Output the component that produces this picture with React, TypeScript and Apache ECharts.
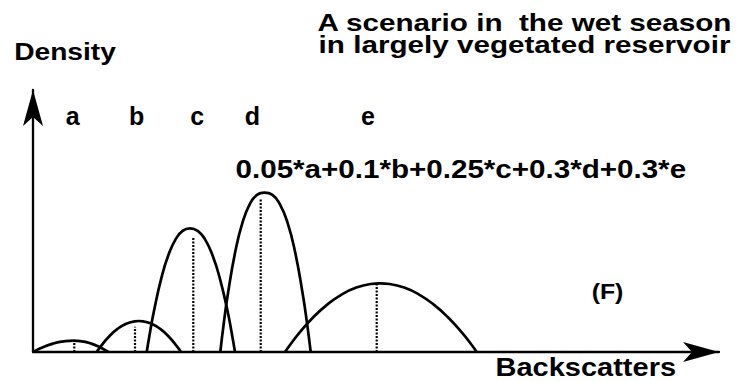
import React, { useEffect, useRef } from "react";
import * as echarts from "echarts";

// Component curves (x: backscatter units, y: density units)
const humpA = [[0, 0], [4.1, 2.1], [12.2, 5.8], [20.3, 8.5], [28.4, 10.3], [36.5, 11.2], [40.5, 11.3], [44, 11.2], [50.9, 10.3], [57.9, 8.5], [64.9, 5.8], [71.8, 2.1], [75.3, 0]];
const humpB = [[63.7, 0], [67.9, 5.9], [76.3, 15.8], [84.8, 23.3], [93.2, 28.2], [101.6, 30.7], [105.9, 31], [110.1, 30.7], [118.5, 28.2], [126.9, 23.3], [135.4, 15.8], [143.8, 5.9], [148, 0]];
const humpC = [[113.7, 0], [117.2, 20.8], [121.1, 41.6], [128.4, 74.1], [135.3, 96.7], [142.7, 112.9], [149.6, 121.2], [157, 123.7], [164.7, 121.2], [171.9, 112.9], [179.5, 96.7], [186.7, 74.1], [194.4, 41.6], [198.4, 20.8], [202, 0]];
const humpD = [[187.3, 0], [190.8, 29], [194.8, 57.5], [202.3, 100.5], [209.4, 129.2], [216.9, 148.1], [224, 157.1], [231.5, 159.3], [239.4, 157.1], [246.7, 148.1], [254.6, 129.2], [262, 100.5], [269.8, 57.5], [274, 29], [277.7, 0]];
const humpE = [[252, 0], [256.8, 6.7], [266.3, 19.1], [280.5, 35], [294.8, 47.9], [309, 57.7], [323.3, 64.4], [337.5, 68], [347, 68.7], [356.7, 68], [371.2, 64.4], [385.7, 57.7], [400.2, 47.9], [414.7, 35], [429.2, 19.1], [438.9, 6.7], [443.7, 0]];
const humps = [humpA, humpB, humpC, humpD, humpE];

// Dotted mode lines
const dropX = [41.3, 102, 160.3, 227.7, 343.7];
const dropTop = [10.3, 25.3, 114.3, 153.7, 67.7];

// Component labels
const componentNames = ["a", "b", "c", "d", "e"];
const componentLabelX = [39.7, 103.7, 164.3, 219.3, 335];
const componentLabelY = [235.7, 235.7, 235.7, 235.7, 235.7];

const titleLines = ["A scenario in  the wet season", "in largely vegetated reservoir"];
const yName = "Density";
const xName = "Backscatters";
const formula = "0.05*a+0.1*b+0.25*c+0.3*d+0.3*e";
const panel = "(F)";

const X_MAX = 686;
const Y_MAX = 262;
const FONT = "'Liberation Sans', Arial, Helvetica, sans-serif";

function txt(text: string, x: number, y: number, size: number, sx: number) {
  return {
    type: "text",
    x,
    y,
    scaleX: sx,
    silent: true,
    style: {
      text,
      fontSize: size,
      fontWeight: "bold",
      fontFamily: FONT,
      fill: "#000",
      align: "center",
      verticalAlign: "middle",
      textAlign: "center",
      textVerticalAlign: "middle",
    },
  };
}

export default function App() {
  const ref = useRef<HTMLDivElement>(null);
  useEffect(() => {
    if (!ref.current) return;
    const chart = echarts.init(ref.current, null, { renderer: "svg" });
    const axisCommon = {
      type: "value",
      axisTick: { show: false },
      axisLabel: { show: false },
      splitLine: { show: false },
      axisLine: {
        show: true,
        symbol: ["none", "arrow"],
        symbolSize: [15, 36],
        lineStyle: { color: "#000", width: 2.3 },
      },
    };
    const series: any[] = [];
    humps.forEach((h, i) => {
      series.push({
        type: "line",
        name: componentNames[i],
        data: h,
        smooth: true,
        showSymbol: false,
        symbol: "none",
        lineStyle: { color: "#000", width: 2.7 },
        z: 3,
      });
    });
    dropX.forEach((x, i) => {
      series.push({
        type: "line",
        data: [[x, 0], [x, dropTop[i]]],
        showSymbol: false,
        symbol: "none",
        lineStyle: { color: "#000", width: 2.2, type: [2, 1.5] },
        z: 2,
      });
    });
    series.push({
      type: "scatter",
      data: componentNames.map((n, i) => [componentLabelX[i], componentLabelY[i], n]),
      symbolSize: 0,
      itemStyle: { opacity: 1, color: "#000" },
      label: {
        show: true,
        position: "inside",
        formatter: (p: any) => p.data[2],
        fontSize: 25,
        fontWeight: "bold",
        fontFamily: FONT,
        color: "#000",
        opacity: 1,
      },
    });
    chart.setOption({
      animation: false,
      grid: { left: 33, top: 90, right: 31, bottom: 30 },
      xAxis: { ...axisCommon, min: 0, max: X_MAX },
      yAxis: { ...axisCommon, min: 0, max: Y_MAX },
      series,
      graphic: [
        txt(titleLines[0], 524.5, 22.8, 24.5, 1.21),
        txt(titleLines[1], 524.5, 44.5, 24.5, 1.21),
        txt(yName, 65, 51.2, 24.5, 1.15),
        txt(formula, 460.8, 169.2, 25.5, 1.16),
        txt(panel, 607.5, 291.7, 22, 1.13),
        txt(xName, 585.8, 367.5, 25, 1.16),
      ],
    });
    return () => chart.dispose();
  }, []);
  return (
    <div
      ref={ref}
      style={{ position: "absolute", left: 0, top: 0, width: 750, height: 382, background: "#fff" }}
    />
  );
}
